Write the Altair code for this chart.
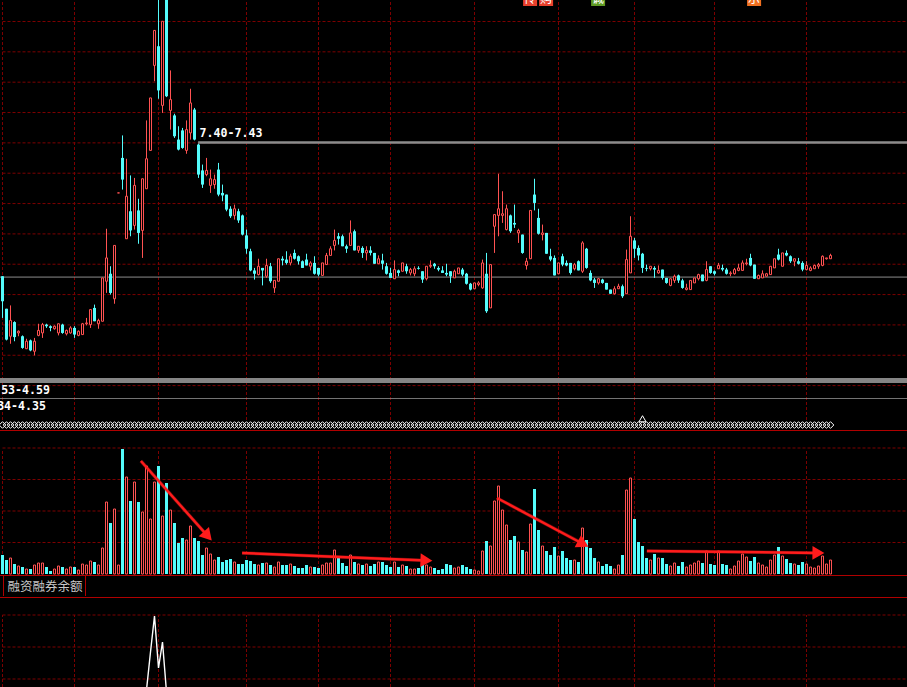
import math
import altair as alt
import pandas as pd

W, H = 907, 687

# ---- daily bars, oldest first (price in 元, volume in 千手) ----
opens = [5.81, 5.42, 5.09, 5.26, 5.13, 5.09, 4.94, 5.04, 4.91, 5.10,
         5.13, 5.23, 5.21, 5.18, 5.13, 5.23, 5.12, 5.13, 5.19, 5.10,
         5.11, 5.24, 5.23, 5.43, 5.24, 5.27, 5.75, 5.84, 5.54, 6.81,
         7.23, 6.26, 6.59, 6.42, 6.60, 6.36, 6.86, 7.32, 8.34, 8.57,
         7.86, 9.15, 7.80, 7.74, 7.45, 7.56, 7.32, 7.53, 7.81, 7.39,
         7.08, 7.03, 6.90, 6.91, 7.09, 6.81, 6.79, 6.62, 6.54, 6.59,
         6.54, 6.30, 6.11, 5.88, 5.83, 5.91, 5.81, 5.93, 5.67, 5.75,
         6.02, 6.01, 5.97, 6.09, 6.05, 5.99, 6.01, 5.93, 5.97, 5.91,
         5.82, 5.95, 6.06, 6.18, 6.29, 6.29, 6.17, 6.18, 6.35, 6.12,
         6.15, 6.09, 6.12, 6.09, 5.96, 6.00, 5.93, 5.85, 5.78, 5.88,
         5.87, 5.93, 5.85, 5.84, 5.91, 5.87, 5.78, 5.93, 5.96, 5.91,
         5.88, 5.85, 5.87, 5.79, 5.84, 5.89, 5.84, 5.72, 5.66, 5.71,
         5.67, 5.84, 5.43, 6.41, 6.54, 6.54, 6.37, 6.54, 6.45, 6.33,
         6.31, 5.94, 6.02, 6.79, 6.51, 6.31, 6.33, 6.05, 6.03, 5.84,
         6.05, 5.97, 5.97, 5.90, 5.99, 5.87, 6.14, 5.85, 5.77, 5.73,
         5.77, 5.73, 5.65, 5.60, 5.66, 5.69, 5.60, 5.85, 6.24, 6.15,
         6.08, 5.91, 5.90, 5.91, 5.85, 5.89, 5.79, 5.70, 5.76, 5.82,
         5.76, 5.65, 5.65, 5.73, 5.78, 5.83, 5.76, 5.93, 5.87, 5.90,
         5.91, 5.89, 5.84, 5.84, 5.88, 5.88, 5.96, 6.03, 5.95, 5.78,
         5.79, 5.81, 5.83, 5.91, 6.07, 5.93, 6.09, 6.05, 5.99, 5.99,
         5.97, 5.89, 5.88, 5.90, 5.93, 5.94, 6.02, 6.02]

highs = [5.81, 5.42, 5.46, 5.27, 5.16, 5.10, 5.06, 5.05, 5.07, 5.24,
         5.25, 5.24, 5.22, 5.22, 5.24, 5.24, 5.17, 5.21, 5.21, 5.16,
         5.25, 5.31, 5.41, 5.47, 5.30, 5.79, 6.38, 5.93, 6.18, 6.81,
         7.50, 7.22, 7.02, 6.99, 6.74, 6.98, 7.68, 7.95, 8.76, 9.14,
         8.87, 9.17, 8.28, 7.76, 7.61, 7.59, 7.68, 8.06, 7.83, 7.40,
         7.15, 7.23, 7.09, 7.03, 7.17, 6.91, 6.79, 6.65, 6.67, 6.62,
         6.55, 6.37, 6.14, 5.91, 6.02, 5.91, 6.02, 5.97, 5.76, 6.02,
         6.05, 6.11, 6.08, 6.13, 6.06, 6.00, 6.08, 5.99, 6.05, 5.91,
         5.97, 6.09, 6.17, 6.37, 6.33, 6.31, 6.19, 6.48, 6.37, 6.17,
         6.17, 6.17, 6.17, 6.09, 6.06, 6.08, 5.97, 5.91, 6.00, 5.89,
         5.97, 5.96, 5.91, 5.93, 5.93, 5.87, 5.93, 6.00, 5.97, 5.93,
         5.93, 5.96, 5.87, 5.89, 5.91, 5.91, 5.85, 5.73, 5.73, 5.75,
         6.01, 6.09, 5.95, 6.55, 7.04, 6.83, 6.67, 6.55, 6.67, 6.38,
         6.31, 6.03, 6.60, 6.98, 6.62, 6.43, 6.33, 6.14, 6.06, 5.97,
         6.08, 6.00, 5.97, 5.97, 6.00, 6.23, 6.15, 5.88, 5.79, 5.79,
         5.78, 5.73, 5.65, 5.69, 5.72, 5.71, 6.13, 6.53, 6.27, 6.18,
         6.09, 5.95, 5.93, 5.93, 5.94, 5.89, 5.79, 5.78, 5.83, 5.83,
         5.78, 5.72, 5.76, 5.79, 5.84, 5.83, 5.99, 5.93, 5.88, 5.97,
         5.95, 5.91, 5.87, 5.91, 5.96, 6.00, 6.02, 6.08, 5.95, 5.83,
         5.88, 5.85, 5.93, 6.02, 6.14, 6.09, 6.12, 6.06, 6.02, 6.03,
         5.99, 5.99, 5.93, 5.95, 5.97, 6.06, 6.03, 6.08]

lows = [5.31, 5.04, 5.00, 5.03, 5.09, 4.94, 4.94, 4.91, 4.86, 5.09,
        5.07, 5.19, 5.15, 5.17, 5.10, 5.12, 5.10, 5.12, 5.07, 5.09,
        5.11, 5.22, 5.19, 5.27, 5.18, 5.27, 5.61, 5.59, 5.48, 6.81,
        6.85, 6.26, 6.29, 6.37, 6.20, 6.03, 6.86, 7.32, 8.15, 7.94,
        7.77, 7.96, 7.57, 7.47, 7.32, 7.34, 7.28, 7.45, 7.44, 6.99,
        6.87, 7.01, 6.81, 6.86, 6.77, 6.71, 6.59, 6.51, 6.49, 6.45,
        6.30, 6.08, 5.87, 5.77, 5.82, 5.70, 5.79, 5.73, 5.61, 5.75,
        5.94, 5.95, 5.94, 6.01, 5.95, 5.91, 5.94, 5.88, 5.83, 5.81,
        5.82, 5.95, 6.06, 6.12, 6.19, 6.17, 6.09, 6.18, 6.12, 6.09,
        6.03, 6.00, 6.06, 5.96, 5.96, 5.89, 5.83, 5.79, 5.78, 5.81,
        5.87, 5.84, 5.82, 5.81, 5.89, 5.73, 5.76, 5.91, 5.90, 5.87,
        5.85, 5.81, 5.73, 5.79, 5.84, 5.81, 5.71, 5.64, 5.66, 5.69,
        5.66, 5.37, 5.43, 6.09, 6.29, 6.45, 6.36, 6.33, 6.39, 6.21,
        6.08, 5.89, 6.02, 6.60, 6.31, 6.24, 6.08, 5.99, 5.82, 5.84,
        5.93, 5.93, 5.83, 5.88, 5.88, 5.85, 5.90, 5.75, 5.67, 5.71,
        5.72, 5.65, 5.60, 5.59, 5.66, 5.55, 5.60, 5.85, 6.03, 6.00,
        5.85, 5.87, 5.88, 5.79, 5.84, 5.77, 5.72, 5.69, 5.73, 5.73,
        5.66, 5.64, 5.65, 5.73, 5.76, 5.75, 5.75, 5.84, 5.82, 5.90,
        5.87, 5.83, 5.81, 5.83, 5.87, 5.88, 5.94, 5.93, 5.78, 5.78,
        5.79, 5.81, 5.83, 5.91, 6.00, 5.93, 6.05, 5.97, 5.93, 5.95,
        5.87, 5.88, 5.87, 5.90, 5.90, 5.93, 6.01, 6.02]

closes = [5.51, 5.05, 5.28, 5.08, 5.15, 4.95, 5.03, 4.92, 5.03, 5.16,
          5.23, 5.21, 5.19, 5.21, 5.24, 5.13, 5.16, 5.19, 5.11, 5.15,
          5.24, 5.25, 5.41, 5.27, 5.28, 5.79, 6.03, 5.61, 6.18, 6.81,
          6.97, 6.77, 6.36, 6.90, 6.33, 6.98, 7.22, 7.95, 8.76, 8.04,
          8.87, 7.97, 7.93, 7.49, 7.33, 7.35, 7.57, 7.89, 7.45, 7.03,
          6.91, 7.08, 6.98, 6.97, 6.79, 6.78, 6.61, 6.53, 6.62, 6.48,
          6.31, 6.14, 5.88, 5.84, 5.93, 5.88, 5.94, 5.75, 5.76, 6.02,
          6.00, 5.97, 6.05, 6.02, 5.99, 5.91, 5.94, 5.97, 5.84, 5.83,
          5.97, 6.06, 6.14, 6.24, 6.26, 6.17, 6.14, 6.33, 6.12, 6.17,
          6.09, 6.12, 6.09, 5.96, 6.02, 5.96, 5.84, 5.79, 5.89, 5.85,
          5.97, 5.87, 5.89, 5.90, 5.90, 5.77, 5.93, 5.94, 5.93, 5.89,
          5.85, 5.83, 5.81, 5.87, 5.91, 5.83, 5.72, 5.65, 5.73, 5.73,
          5.97, 5.39, 5.95, 6.55, 6.62, 6.56, 6.62, 6.35, 6.43, 6.36,
          6.09, 5.99, 6.60, 6.69, 6.32, 6.33, 6.08, 6.01, 5.82, 5.97,
          5.95, 5.94, 5.85, 5.95, 5.88, 6.21, 5.91, 5.76, 5.73, 5.78,
          5.73, 5.65, 5.60, 5.66, 5.69, 5.57, 6.01, 6.29, 6.14, 6.06,
          5.91, 5.90, 5.93, 5.89, 5.88, 5.79, 5.73, 5.78, 5.81, 5.76,
          5.67, 5.67, 5.76, 5.79, 5.83, 5.75, 5.89, 5.85, 5.84, 5.94,
          5.89, 5.84, 5.85, 5.89, 5.91, 5.97, 5.97, 5.94, 5.78, 5.82,
          5.84, 5.84, 5.93, 6.02, 6.01, 6.09, 6.06, 5.99, 6.02, 5.96,
          5.89, 5.94, 5.91, 5.94, 5.95, 6.05, 6.03, 6.06]

volumes = [19, 14, 16, 10, 8, 7, 5, 5, 9, 11,
           11, 7, 3, 5, 8, 7, 5, 7, 7, 4,
           10, 9, 13, 12, 9, 26, 72, 51, 65, 9,
           125, 97, 73, 92, 72, 62, 108, 55, 92, 108,
           58, 91, 64, 51, 31, 36, 34, 48, 36, 33,
           19, 26, 20, 14, 17, 12, 14, 15, 12, 10,
           10, 14, 13, 10, 9, 11, 11, 9, 7, 12,
           9, 9, 10, 8, 6, 6, 9, 7, 7, 6,
           9, 11, 11, 24, 16, 11, 8, 19, 12, 10,
           9, 10, 8, 10, 12, 12, 9, 7, 12, 7,
           9, 8, 5, 5, 6, 9, 9, 7, 6, 4,
           5, 10, 9, 6, 7, 9, 7, 5, 4, 3,
           23, 33, 28, 73, 88, 64, 49, 34, 38, 32,
           24, 22, 50, 85, 44, 28, 23, 19, 27, 18,
           23, 16, 14, 14, 12, 46, 34, 26, 16, 12,
           8, 10, 8, 5, 9, 19, 84, 96, 55, 32,
           28, 16, 14, 20, 16, 16, 10, 8, 11, 8,
           12, 7, 9, 11, 13, 11, 23, 10, 9, 23,
           10, 9, 5, 8, 13, 20, 17, 13, 17, 11,
           9, 7, 14, 19, 27, 18, 15, 11, 10, 9,
           12, 10, 7, 6, 8, 18, 10, 14]

# 融资融券余额, the stretch that rises into the lower panel
margin_idx = [35, 36, 37, 38, 39, 40, 41, 42]
margin_val = [-3.0, 1.0, 4.8, 8.4, 3.2, 5.8, 0.8, -3.0]

# month boundaries (bar index)
month_starts = [0, 18, 39, 61, 79, 97, 118, 139, 158, 178, 201]

# price-range marks drawn on the price panel: (low, high, label)
range_lows = [7.40, 4.53, 4.34]
range_highs = [7.43, 4.59, 4.35]
range_labels = ["7.40-7.43", "4.53-4.59", "4.34-4.35"]
ref_price = 5.80

# trend arrows on the volume panel: start / end (bar index, volume)
arrow_x0 = [34.6, 59.9, 123.6, 161.1]
arrow_v0 = [113, 21, 76, 23]
arrow_x1 = [52.4, 107.6, 146.6, 205.6]
arrow_v1 = [33, 13.3, 27, 21]

# event badges along the top edge (bar index, colour, glyph)
badge_idx = [131.9, 135.9, 148.9, 187.9]
badge_col = ["#e8402c", "#e8402c", "#5f9a24", "#f07020"]
badge_txt = ["传", "购", "诚", "示"]

UP = "#ff5252"
DOWN = "#54fcfc"
GRID = "#7c0000"
SEP = "#b00000"
ARROW = "#ff1c1c"

n = len(opens)
assert all(len(a) == n for a in (highs, lows, closes, volumes))

bars = pd.DataFrame({"i": range(n), "open": opens, "high": highs,
                     "low": lows, "close": closes, "vol": volumes})
bars["dir"] = ["up" if c >= o else "down" for o, c in zip(opens, closes)]
bars["top"] = bars[["open", "close"]].max(axis=1)
bars["bot"] = bars[["open", "close"]].min(axis=1)
bars["xa"] = bars["i"] - 0.375
bars["xb"] = bars["i"] + 0.375
bars["xc"] = bars["i"] - 0.25
bars["xd"] = bars["i"] + 0.25
bars["zero"] = 0
up_bars = bars[bars["dir"] == "up"]
dn_bars = bars[bars["dir"] == "down"]

X_LO, X_HI = -0.625, 226.125
XS = alt.Scale(domain=[X_LO, X_HI], range=[0, W], nice=False, zero=False)
PS = alt.Scale(domain=[3.965, 9.125], range=[430, 0], nice=False, zero=False)
VS = alt.Scale(domain=[0, 144], range=[574, 430], nice=False, zero=False)
MS = alt.Scale(domain=[1.3, 10.3], range=[687, 597], nice=False, zero=False)
DIRS = alt.Scale(domain=["up", "down"], range=[UP, DOWN])


def xq(field):
    return alt.X(field, type="quantitative", scale=XS, axis=None)


def yq(field, scale):
    return alt.Y(field, type="quantitative", scale=scale, axis=None)


one = pd.DataFrame({"k": [0]})
layers = []

# ---------- grid ----------
price_grid = pd.DataFrame({"p": [8.867 - 0.3641 * k for k in range(13)],
                           "x0": 0, "x1": X_HI})
vol_grid = pd.DataFrame({"v": [31.5, 63.0, 94.5, 126.0], "x0": 0, "x1": X_HI})
margin_grid = pd.DataFrame({"m": [8.5, 5.3, 2.1], "x0": 0, "x1": X_HI})
vlines = pd.DataFrame({"i": month_starts, "p0": 4.085, "p1": 9.125,
                       "v0": 0, "v1": 125, "m0": 1.3, "m1": 8.5})

dash = dict(color=GRID, strokeDash=[3, 2], strokeWidth=1)
layers += [
    alt.Chart(price_grid).mark_rule(**dash).encode(y=yq("p", PS), x=xq("x0"), x2="x1"),
    alt.Chart(vol_grid).mark_rule(**dash).encode(y=yq("v", VS), x=xq("x0"), x2="x1"),
    alt.Chart(margin_grid).mark_rule(**dash).encode(y=yq("m", MS), x=xq("x0"), x2="x1"),
    alt.Chart(vlines).mark_rule(**dash).encode(x=xq("i"), y=yq("p0", PS), y2="p1"),
    alt.Chart(vlines).mark_rule(**dash).encode(x=xq("i"), y=yq("v0", VS), y2="v1"),
    alt.Chart(vlines).mark_rule(**dash).encode(x=xq("i"), y=yq("m0", MS), y2="m1"),
]

# ---------- price-range marks ----------
ranges = pd.DataFrame({"lo": range_lows, "hi": range_highs, "label": range_labels,
                       "x0": [48.9, X_LO, X_LO], "x1": X_HI,
                       "fill": ["#8c8c8c", "#858585", "#9a9a9a"]})
layers.append(
    alt.Chart(ranges).mark_rect().encode(
        x=xq("x0"), x2="x1", y=yq("lo", PS), y2="hi",
        color=alt.Color("fill:N", scale=None)))
layers.append(
    alt.Chart(pd.DataFrame({"p": [ref_price], "x0": X_LO, "x1": X_HI}))
    .mark_rule(color="#8c8c8c", strokeWidth=1)
    .encode(y=yq("p", PS), x=xq("x0"), x2="x1"))

mono = dict(font="DejaVu Sans Mono", fontSize=11.6, color="white", fontWeight="bold")
layers.append(
    alt.Chart(ranges.iloc[[0]]).mark_text(align="left", baseline="bottom", dx=1.5, dy=-2, **mono)
    .encode(x=xq("x0"), y=yq("hi", PS), text="label:N"))
low_labels = ranges.iloc[[1, 2]].assign(xr=[11.875, 10.875], yl=[4.53, 4.35])
layers.append(
    alt.Chart(low_labels.iloc[[0]]).mark_text(align="right", baseline="alphabetic", dy=11, **mono)
    .encode(x=xq("xr"), y=yq("yl", PS), text="label:N"))
layers.append(
    alt.Chart(low_labels.iloc[[1]]).mark_text(align="right", baseline="alphabetic", dy=12.5, **mono)
    .encode(x=xq("xr"), y=yq("yl", PS), text="label:N"))

# ---------- candles ----------
layers.append(
    alt.Chart(bars).mark_rule(strokeWidth=1).encode(
        x=xq("i"), y=yq("low", PS), y2="high",
        color=alt.Color("dir:N", scale=DIRS, legend=None)))
layers.append(
    alt.Chart(dn_bars).mark_rect(color=DOWN).encode(
        x=xq("xa"), x2="xb", y=yq("bot", PS), y2="top"))
layers.append(
    alt.Chart(up_bars).mark_rect(fill="black", stroke=UP, strokeWidth=1).encode(
        x=xq("xc"), x2="xd", y=yq("bot", PS), y2="top"))

# high-price marker at the peak
peak = bars.loc[bars["high"].idxmax()]
layers.append(
    alt.Chart(pd.DataFrame({"i": [int(peak["i"])], "p": [peak["high"]],
                            "t": [f"{peak['high']:.2f}"]}))
    .mark_text(align="left", baseline="middle", dx=3, **mono)
    .encode(x=xq("i"), y=yq("p", PS), text="t:N"))

# event badges at the top edge
badges = pd.DataFrame({"i": badge_idx, "c": badge_col, "t": badge_txt})
badges["x0"] = badges["i"] - 1.75
badges["x1"] = badges["i"] + 1.75
badges["p0"] = 9.053
badges["p1"] = 9.30
layers.append(
    alt.Chart(badges).mark_rect().encode(
        x=xq("x0"), x2="x1", y=yq("p0", PS), y2="p1",
        color=alt.Color("c:N", scale=None)))
layers.append(
    alt.Chart(badges).mark_text(font="Noto Sans CJK SC", fontSize=12, color="white",
                                baseline="bottom", dy=-0.5)
    .encode(x=xq("i"), y=yq("p0", PS), text="t:N"))

# ---------- signal strip under the price panel ----------
strip = pd.DataFrame({"i": range(n), "p": 4.025})
layers.append(
    alt.Chart(strip).mark_point(shape="diamond", size=44, filled=False,
                                color="white", strokeWidth=1, opacity=1)
    .encode(x=xq("i"), y=yq("p", PS)))
layers.append(
    alt.Chart(pd.DataFrame({"i": [160], "p": [4.10]}))
    .mark_point(shape="triangle-up", size=50, filled=True, color="black",
                stroke="white", strokeWidth=1, opacity=1)
    .encode(x=xq("i"), y=yq("p", PS)))

# ---------- volume ----------
layers.append(
    alt.Chart(dn_bars).mark_rect(color=DOWN).encode(
        x=xq("xa"), x2="xb", y=yq("zero", VS), y2="vol"))
layers.append(
    alt.Chart(up_bars).mark_rect(fill="black", stroke=UP, strokeWidth=1).encode(
        x=xq("xc"), x2="xd", y=yq("zero", VS), y2="vol"))

# trend arrows
PX_X, PX_V = W / (X_HI - X_LO), 1.0
HEAD = 6.5
rows = []
for x0, v0, x1, v1 in zip(arrow_x0, arrow_v0, arrow_x1, arrow_v1):
    dx, dy = (x1 - x0) * PX_X, (v0 - v1) * PX_V
    ang = math.degrees(math.atan2(dy, dx))
    c, s = math.cos(math.radians(ang)), math.sin(math.radians(ang))
    rows.append({"x0": x0, "v0": v0,
                 "xh": x1 - HEAD * c / PX_X, "vh": v1 + HEAD * s / PX_V,
                 "ang": ang % 360})
arrows = pd.DataFrame(rows)
layers.append(
    alt.Chart(arrows).mark_rule(color=ARROW, strokeWidth=3.6, opacity=0.35).encode(
        x=xq("x0"), x2="xh", y=yq("v0", VS), y2="vh"))
layers.append(
    alt.Chart(arrows).mark_rule(color=ARROW, strokeWidth=2.4).encode(
        x=xq("x0"), x2="xh", y=yq("v0", VS), y2="vh"))
layers.append(
    alt.Chart(arrows).mark_point(shape="triangle-right", filled=True, size=190,
                                 color=ARROW, opacity=1).encode(
        x=xq("xh"), y=yq("vh", VS), angle=alt.Angle("ang:Q", scale=None)))

# ---------- 融资融券余额 ----------
margin = pd.DataFrame({"i": margin_idx, "m": margin_val})
layers.append(
    alt.Chart(margin).mark_line(color="white", strokeWidth=1.4).encode(
        x=xq("i"), y=yq("m", MS)))

# ---------- panel separators and caption ----------
def hline(y, color=SEP, width=1):
    return alt.Chart(one).mark_rule(color=color, strokeWidth=width).encode(
        x=alt.value(0), x2=alt.value(W), y=alt.value(y))


def vline(x, y0, y1, color=SEP):
    return alt.Chart(one).mark_rule(color=color, strokeWidth=1).encode(
        x=alt.value(x), y=alt.value(y0), y2=alt.value(y1))


layers += [hline(430.5), hline(575.5), hline(597.5),
           vline(3.5, 576, 596), vline(85.5, 576, 596)]
layers.append(
    alt.Chart(pd.DataFrame({"t": ["融资融券余额"]}))
    .mark_text(font="Noto Sans CJK SC", fontSize=12.5, color="#c8c8c8",
               align="left", baseline="alphabetic")
    .encode(x=alt.value(7.5), y=alt.value(591), text="t:N"))

chart = (
    alt.layer(*layers)
    .resolve_scale(y="independent")
    .properties(width=W, height=H, padding=0,
                autosize=alt.AutoSizeParams(type="none"),
                background="black")
    .configure_view(stroke=None)
)

chart.save("out.html", embed_options={"renderer": "svg", "actions": False})
